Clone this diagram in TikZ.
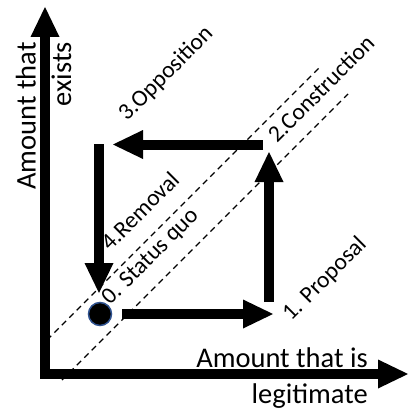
\documentclass[tikz,border=0pt]{standalone}
\usepackage{fontspec}
\setmainfont{Carlito}
\usetikzlibrary{arrows.meta}
\tikzset{
  bigarrow/.style={line width=10pt, -{Triangle[length=30pt,width=29pt,line width=0pt]}},
  guideline/.style={line width=1.4pt, dash pattern=on 6pt off 4.5pt},
  axlabel/.style={font=\fontsize{28.5}{35.5}\selectfont, align=right, inner sep=0pt},
  steplabel/.style={font=\fontsize{23.5}{28}\selectfont, rotate=45, anchor=base west, inner sep=0pt},
  statusdot/.style={circle, fill=black, draw=dotblue, line width=1.5pt, minimum size=23pt, inner sep=0pt}
}
\definecolor{dotblue}{HTML}{2F528F}
\begin{document}
\begin{tikzpicture}[x=1pt,y=-1pt]
\useasboundingbox (0,0) rectangle (420,420);
% guide lines
\coordinate (a1) at (47,340);
\coordinate (a2) at (320,67);
\coordinate (b1) at (62,380);
\coordinate (b2) at (348,94);
\draw[guideline] (a1) -- (a2);
\draw[guideline] (b1) -- (b2);
% axes
\coordinate (ytip) at (45,7);
\coordinate (O) at (45,374);
\coordinate (xtip) at (408,374);
\draw[line width=10pt, line join=miter, {Triangle[length=30pt,width=29pt,line width=0pt]}-{Triangle[length=30pt,width=29pt,line width=0pt]}] (ytip) -- (O) -- (xtip);
% axis labels
\node[axlabel, rotate=90, anchor=base east] (ylab) at (71,42) {Amount that\\exists};
\node[axlabel, anchor=base east] (xlab) at (368,403) {Amount that is\\legitimate};
% status quo dot
\node[statusdot] (s0) at (100,314) {};
% cycle arrows
\coordinate (p1s) at (122,314);
\coordinate (p1e) at (273,314);
\coordinate (p2s) at (269,302);
\coordinate (p2e) at (269,152);
\coordinate (p3s) at (263,144.5);
\coordinate (p3e) at (113,144.5);
\coordinate (p4s) at (99,144);
\coordinate (p4e) at (99,293);
\draw[bigarrow] (p1s) -- (p1e);
\draw[bigarrow] (p2s) -- (p2e);
\draw[bigarrow] (p3s) -- (p3e);
\draw[bigarrow] (p4s) -- (p4e);
% step labels
\node[steplabel] (l0) at (110,306) {0. Status quo};
\node[steplabel] (l1) at (291,322) {1. Proposal};
\node[steplabel] (l2) at (277,144) {2.Construction};
\node[steplabel] (l3) at (127,122) {3.Opposition};
\node[steplabel] (l4) at (110,252) {4.Removal};
\end{tikzpicture}
\end{document}
